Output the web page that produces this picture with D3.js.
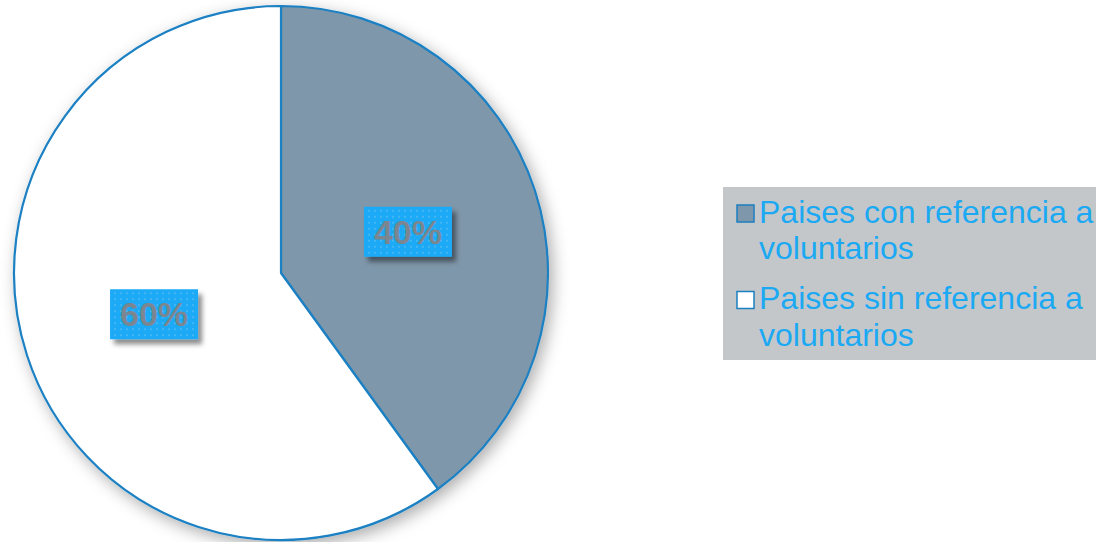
<!DOCTYPE html>
<html>
<head>
<meta charset="utf-8">
<script src="https://cdn.jsdelivr.net/npm/d3@7"></script>
<style>
  body { margin: 0; background: #fff; }
  svg { display: block; }
  .legend-text { font-family: "Liberation Sans", Arial, sans-serif; font-size: 32px; fill: #1ba9f3; }
  .pct-label { font-family: "Liberation Sans", Arial, sans-serif; font-size: 34px; font-weight: bold; fill: #7b8690; }
</style>
</head>
<body>
<svg id="chart"></svg>
<script>
// chart data
const categories = ['Paises con referencia a voluntarios', 'Paises sin referencia a voluntarios'];
const values = [40, 60];
const legendLines = [['Paises con referencia a', 'voluntarios'], ['Paises sin referencia a', 'voluntarios']];
const sliceColors = ['#7f97aa', '#ffffff'];

const width = 1096, height = 542;
const cx = 281, cy = 273, radius = 267;

const svg = d3.select('#chart')
    .attr('width', width)
    .attr('height', height);

const defs = svg.append('defs');

// soft shadow under the pie
const pieShadow = defs.append('filter')
    .attr('id', 'pieShadow')
    .attr('x', '-20%').attr('y', '-20%')
    .attr('width', '140%').attr('height', '140%');
pieShadow.append('feDropShadow')
    .attr('dx', 4).attr('dy', 5)
    .attr('stdDeviation', 8)
    .attr('flood-color', '#000')
    .attr('flood-opacity', 0.32);

// shadow for the label boxes
const boxShadow = defs.append('filter')
    .attr('id', 'boxShadow')
    .attr('x', '-30%').attr('y', '-30%')
    .attr('width', '160%').attr('height', '160%');
boxShadow.append('feDropShadow')
    .attr('dx', 4).attr('dy', 5)
    .attr('stdDeviation', 2.5)
    .attr('flood-color', '#000')
    .attr('flood-opacity', 0.45);

// dotted fill for the label boxes
const dots = defs.append('pattern')
    .attr('id', 'dots')
    .attr('patternUnits', 'userSpaceOnUse')
    .attr('width', 6).attr('height', 6);
dots.append('rect')
    .attr('width', 6).attr('height', 6)
    .attr('fill', '#1aa9f6');
dots.append('rect')
    .attr('x', 2).attr('y', 2)
    .attr('width', 2).attr('height', 2)
    .attr('fill', '#44b6f2');

const pie = d3.pie().sort(null).value(d => d);
const arcs = pie(values);

const arc = d3.arc().innerRadius(0).outerRadius(radius);
const labelArc = d3.arc().innerRadius(radius * 0.5).outerRadius(radius * 0.5);

const color = d3.scaleOrdinal()
    .domain(categories)
    .range(sliceColors);

const g = svg.append('g')
    .attr('transform', `translate(${cx},${cy})`);

g.append('g')
    .attr('filter', 'url(#pieShadow)')
  .selectAll('path')
    .data(arcs)
    .join('path')
    .attr('d', arc)
    .attr('fill', (d, i) => color(categories[i]))
    .attr('stroke', '#1a80c3')
    .attr('stroke-width', 2.2)
    .attr('stroke-linejoin', 'round');

// percentage labels
const total = d3.sum(values);
const boxW = 88, boxH = 50;
const labels = g.selectAll('.pct')
    .data(arcs)
    .join('g')
    .attr('class', 'pct')
    .attr('transform', d => {
      const [x, y] = labelArc.centroid(d);
      return `translate(${x},${y})`;
    });

labels.append('rect')
    .attr('x', -boxW / 2)
    .attr('y', -boxH / 2)
    .attr('width', boxW)
    .attr('height', boxH)
    .attr('fill', 'url(#dots)')
    .attr('filter', 'url(#boxShadow)');

labels.append('text')
    .attr('class', 'pct-label')
    .attr('text-anchor', 'middle')
    .attr('y', 12)
    .text(d => Math.round(d.data / total * 100) + '%');

// legend
const legend = svg.append('g')
    .attr('transform', 'translate(723,187)');

legend.append('rect')
    .attr('width', 373)
    .attr('height', 173)
    .attr('fill', '#c4c7ca');

const items = legend.selectAll('.item')
    .data(categories)
    .join('g')
    .attr('class', 'item')
    .attr('transform', (d, i) => `translate(0,${i * 86.5})`);

items.append('rect')
    .attr('x', 14)
    .attr('y', 18)
    .attr('width', 17)
    .attr('height', 17)
    .attr('fill', d => color(d))
    .attr('stroke', '#1a7fc1')
    .attr('stroke-width', 1.5);

items.append('text')
    .attr('class', 'legend-text')
    .attr('x', 36)
    .attr('y', 35.7)
  .selectAll('tspan')
    .data((d, i) => legendLines[i])
    .join('tspan')
    .attr('x', 36)
    .attr('dy', (d, j) => j === 0 ? 0 : 36.7)
    .text(d => d);
</script>
</body>
</html>
